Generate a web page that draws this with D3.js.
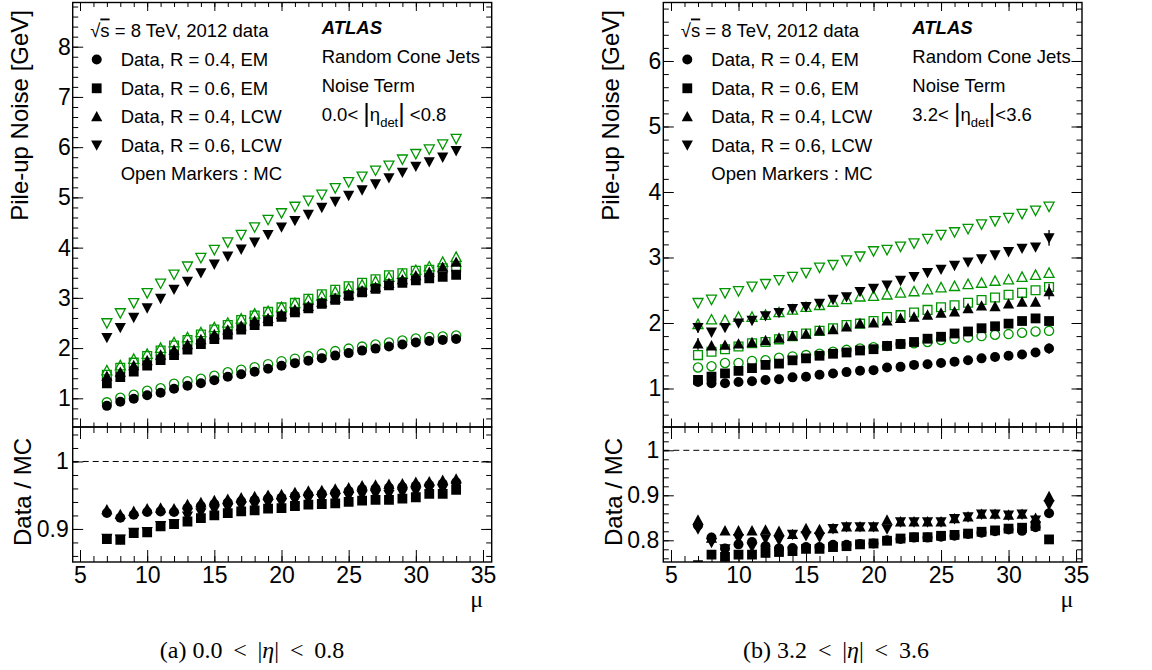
<!DOCTYPE html>
<html><head><meta charset="utf-8">
<script src="https://cdn.jsdelivr.net/npm/d3@7"></script>
<style>
body{margin:0;background:#fff}
svg{display:block}
text{font-family:"Liberation Sans",Arial,Helvetica,sans-serif;fill:#000}
.cap{font-family:"Liberation Serif","Times New Roman",serif}
</style>
</head><body>
<svg id="c" width="1152" height="670"></svg>
<script>
// ---------------- DATA ----------------
const mu = [7,8,9,10,11,12,13,14,15,16,17,18,19,20,21,22,23,24,25,26,27,28,29,30,31,32,33];

// Panel (a) 0.0 < |eta| < 0.8
const aDataR04EM  = [0.85,0.93,0.99,1.06,1.11,1.19,1.25,1.30,1.36,1.43,1.48,1.53,1.59,1.65,1.70,1.75,1.80,1.85,1.90,1.95,1.99,2.03,2.07,2.11,2.14,2.16,2.18];
const aMcR04EM    = [0.92,1.01,1.07,1.15,1.20,1.29,1.34,1.39,1.45,1.52,1.57,1.62,1.68,1.74,1.79,1.84,1.89,1.94,1.99,2.03,2.07,2.11,2.15,2.19,2.22,2.23,2.25];
const aDataR06EM  = [1.30,1.42,1.53,1.65,1.76,1.86,1.97,2.08,2.18,2.27,2.37,2.46,2.53,2.62,2.71,2.79,2.88,2.96,3.04,3.11,3.18,3.25,3.30,3.35,3.39,3.42,3.46];
const aMcR06EM    = [1.47,1.61,1.71,1.84,1.95,2.05,2.16,2.27,2.37,2.46,2.56,2.65,2.72,2.81,2.90,2.98,3.07,3.16,3.23,3.30,3.37,3.45,3.49,3.54,3.56,3.59,3.61];
const aDataR04LCW = [1.44,1.52,1.65,1.75,1.86,1.96,2.07,2.17,2.27,2.36,2.44,2.54,2.59,2.67,2.76,2.83,2.91,2.99,3.07,3.14,3.21,3.29,3.36,3.44,3.51,3.61,3.71];
const aMcR04LCW   = [1.55,1.65,1.78,1.88,2.00,2.11,2.21,2.31,2.41,2.50,2.58,2.68,2.73,2.81,2.89,2.96,3.04,3.12,3.19,3.26,3.33,3.41,3.47,3.55,3.62,3.71,3.81];
const aDataR06LCW = [2.21,2.41,2.61,2.80,2.99,3.17,3.33,3.50,3.67,3.83,3.97,4.11,4.26,4.41,4.54,4.66,4.80,4.92,5.04,5.15,5.27,5.39,5.50,5.62,5.71,5.80,5.93];
const aMcR06LCW   = [2.50,2.70,2.90,3.10,3.29,3.47,3.63,3.80,3.96,4.11,4.26,4.41,4.56,4.69,4.82,4.94,5.06,5.19,5.31,5.42,5.54,5.64,5.76,5.87,5.96,6.06,6.17];
const aRatioR04EM  = [0.9235,0.9165,0.921,0.925,0.926,0.925,0.931,0.934,0.937,0.939,0.941,0.943,0.945,0.946,0.949,0.951,0.952,0.954,0.956,0.959,0.960,0.961,0.962,0.964,0.965,0.967,0.969];
const aRatioR06EM  = [0.885,0.884,0.894,0.895,0.904,0.907,0.911,0.916,0.920,0.9235,0.926,0.9275,0.930,0.931,0.934,0.936,0.937,0.938,0.940,0.942,0.943,0.943,0.945,0.947,0.952,0.952,0.958];
const aRatioR04LCW = [0.9285,0.9215,0.926,0.930,0.931,0.930,0.936,0.939,0.942,0.944,0.946,0.948,0.950,0.951,0.954,0.956,0.957,0.959,0.961,0.964,0.965,0.966,0.967,0.969,0.970,0.972,0.974];
const aRatioR06LCW = [0.886,0.885,0.895,0.896,0.905,0.908,0.919,0.924,0.928,0.931,0.934,0.935,0.938,0.939,0.942,0.944,0.945,0.946,0.948,0.950,0.951,0.951,0.953,0.955,0.959,0.959,0.963];

// Panel (b) 3.2 < |eta| < 3.6
const bDataR04EM  = [1.10,1.08,1.08,1.10,1.11,1.13,1.14,1.17,1.18,1.21,1.23,1.25,1.27,1.28,1.32,1.33,1.36,1.37,1.39,1.41,1.43,1.46,1.48,1.50,1.52,1.55,1.61];
const bMcR04EM    = [1.32,1.34,1.39,1.39,1.42,1.43,1.47,1.49,1.51,1.53,1.56,1.59,1.61,1.63,1.65,1.68,1.69,1.71,1.74,1.76,1.78,1.80,1.82,1.83,1.85,1.87,1.88];
const bDataR06EM  = [1.13,1.18,1.23,1.27,1.31,1.36,1.38,1.43,1.46,1.50,1.53,1.55,1.58,1.60,1.65,1.68,1.71,1.76,1.79,1.84,1.87,1.92,1.95,1.99,2.03,2.07,2.03];
const bMcR06EM    = [1.51,1.56,1.60,1.64,1.69,1.71,1.75,1.80,1.84,1.88,1.92,1.97,1.99,2.03,2.09,2.12,2.16,2.20,2.24,2.27,2.31,2.35,2.39,2.43,2.46,2.50,2.55];
const bDataR04LCW = [1.68,1.65,1.66,1.68,1.70,1.73,1.77,1.80,1.83,1.88,1.90,1.94,1.99,2.00,2.03,2.07,2.09,2.12,2.15,2.17,2.22,2.26,2.25,2.29,2.32,2.32,2.48];
const bMcR04LCW   = [1.98,2.05,2.04,2.09,2.09,2.12,2.16,2.20,2.24,2.27,2.32,2.36,2.40,2.41,2.43,2.46,2.48,2.51,2.54,2.56,2.59,2.61,2.64,2.66,2.70,2.73,2.76];
const bDataR06LCW = [1.93,1.86,1.93,2.00,2.04,2.11,2.16,2.22,2.25,2.30,2.36,2.40,2.48,2.53,2.58,2.65,2.71,2.77,2.82,2.88,2.93,2.98,3.04,3.09,3.14,3.16,3.30];
const bMcR06LCW   = [2.31,2.36,2.46,2.49,2.56,2.60,2.66,2.71,2.77,2.85,2.89,2.96,3.02,3.10,3.12,3.17,3.22,3.29,3.35,3.39,3.44,3.51,3.56,3.61,3.67,3.72,3.78];
const bErrR04EM   = [0.03,0.02,0.02,0.02,0.02,0.02,0.02,0.02,0.02,0.02,0.02,0.02,0.02,0.02,0.02,0.02,0.02,0.02,0.02,0.02,0.02,0.02,0.02,0.02,0.03,0.03,0.08];
const bErrR04LCW  = [0.09,0.04,0.03,0.03,0.03,0.03,0.03,0.03,0.03,0.03,0.03,0.03,0.03,0.03,0.03,0.03,0.03,0.03,0.03,0.03,0.03,0.03,0.03,0.03,0.04,0.05,0.12];
const bErrR06LCW  = [0.08,0.06,0.03,0.03,0.03,0.03,0.03,0.03,0.03,0.03,0.03,0.03,0.03,0.03,0.03,0.03,0.03,0.03,0.03,0.03,0.03,0.03,0.03,0.03,0.04,0.05,0.12];
const bRatioR04EM  = [0.833,0.806,0.782,0.791,0.796,0.787,0.782,0.783,0.785,0.785,0.790,0.790,0.792,0.793,0.800,0.803,0.806,0.806,0.808,0.810,0.814,0.817,0.820,0.824,0.821,0.829,0.860];
const bRatioR06EM  = [0.745,0.768,0.763,0.768,0.768,0.772,0.774,0.776,0.781,0.781,0.785,0.787,0.791,0.793,0.799,0.804,0.807,0.807,0.810,0.812,0.815,0.819,0.822,0.826,0.828,0.832,0.802];
const bRatioR04LCW = [0.845,0.805,0.821,0.821,0.821,0.823,0.820,0.813,0.826,0.824,0.826,0.830,0.830,0.830,0.845,0.841,0.841,0.841,0.841,0.848,0.852,0.858,0.858,0.856,0.858,0.849,0.897];
const bRatioR06LCW = [0.825,0.795,0.781,0.804,0.785,0.803,0.800,0.813,0.810,0.807,0.826,0.830,0.830,0.830,0.825,0.841,0.841,0.841,0.841,0.848,0.852,0.858,0.858,0.856,0.858,0.845,0.879];

// Tick values and labels
const xMajorTicks = [5,10,15,20,25,30,35];
const aYMajorTicks = [1,2,3,4,5,6,7,8];
const bYMajorTicks = [1,2,3,4,5,6];
const aRatioMajorTicks = [0.9,1.0];
const bRatioMajorTicks = [0.8,0.9,1.0];

const legendLabels = ["Data, R = 0.4, EM","Data, R = 0.6, EM","Data, R = 0.4, LCW","Data, R = 0.6, LCW"];
const legendKinds = ["circle","square","triUp","triDown"];

// ---------------- DRAWING ----------------
const svg = d3.select("#c");
const GREEN = "rgb(0,150,0)";
const FONT = '"Liberation Sans",Arial,Helvetica,sans-serif';

function markerPath(kind, open){
  const r = open ? 4.6 : 5.0;
  if(kind==="circle") return d3.symbol(d3.symbolCircle, Math.PI*r*r)();
  if(kind==="square"){ const s = open?8.8:9.8; return d3.symbol(d3.symbolSquare, s*s)(); }
  const w = open?5.0:5.6, hu = open?4.2:4.6, hd = open?5.2:5.8;
  if(kind==="triUp") return `M${-w},${hu}L${w},${hu}L0,${-hd}Z`;
  return `M${-w},${-hu}L${w},${-hu}L0,${hd}Z`;
}

function drawPanel(p){
  const g = svg.append("g");
  const x = d3.scaleLinear().domain(p.xDomain).range([p.x0, p.x1]);
  const y = d3.scaleLinear().domain(p.yDomain).range([p.yB, p.yT]);
  const r = d3.scaleLinear().domain(p.rDomain).range([p.rB, p.rT]);
  const id = p.id;

  const defs = svg.append("defs");
  defs.append("clipPath").attr("id","clipT"+id).append("rect")
    .attr("x",p.x0).attr("y",p.yT).attr("width",p.x1-p.x0).attr("height",p.yB-p.yT);
  defs.append("clipPath").attr("id","clipR"+id).append("rect")
    .attr("x",p.x0).attr("y",p.rT).attr("width",p.x1-p.x0).attr("height",p.rB-p.rT);

  const xMinor = d3.range(5,36,1);
  const yMinor = d3.range(0.6,p.yDomain[1],0.2).map(v=>+v.toFixed(2)).filter(v=>v>p.yDomain[0] && v<p.yDomain[1]);
  const rMinor = d3.range(0.76,1.05,0.02).map(v=>+v.toFixed(2)).filter(v=>v>p.rDomain[0] && v<p.rDomain[1]);

  function axis(gen, tr, vals, size, labels, pad){
    const a = gen.tickValues(vals).tickSize(size).tickPadding(pad||3);
    a.tickFormat(labels ? labels : "");
    const ag = g.append("g").attr("transform",tr).call(a);
    ag.select(".domain").remove();
    ag.attr("font-size",23).attr("font-family",FONT);
    ag.selectAll("line").attr("stroke","#000").attr("stroke-width",1);
    return ag;
  }
  const fmtR = d=> d===1?"1":d3.format(".1f")(d);
  // ---- top panel ticks ----
  axis(d3.axisLeft(y), `translate(${p.x0},0)`, p.yMajor, -10.5, d3.format("d"), 2);
  axis(d3.axisLeft(y), `translate(${p.x0},0)`, yMinor, -5.5, null);
  axis(d3.axisRight(y), `translate(${p.x1},0)`, p.yMajor, -10.5, null);
  axis(d3.axisRight(y), `translate(${p.x1},0)`, yMinor, -5.5, null);
  axis(d3.axisBottom(x), `translate(0,${p.yB})`, xMajorTicks, -8.5, null);
  axis(d3.axisBottom(x), `translate(0,${p.yB})`, xMinor, -4.5, null);
  axis(d3.axisTop(x), `translate(0,${p.yT})`, xMajorTicks, -8.5, null);
  axis(d3.axisTop(x), `translate(0,${p.yT})`, xMinor, -4.5, null);
  // ---- ratio panel ticks ----
  axis(d3.axisLeft(r), `translate(${p.x0},0)`, p.rMajor, -10.5, fmtR, 4);
  axis(d3.axisLeft(r), `translate(${p.x0},0)`, rMinor, -5.5, null);
  axis(d3.axisRight(r), `translate(${p.x1},0)`, p.rMajor, -10.5, null);
  axis(d3.axisRight(r), `translate(${p.x1},0)`, rMinor, -5.5, null);
  axis(d3.axisBottom(x), `translate(0,${p.rB})`, xMajorTicks, -12, d3.format("d"), 4.5);
  axis(d3.axisBottom(x), `translate(0,${p.rB})`, xMinor, -6, null);
  axis(d3.axisTop(x), `translate(0,${p.rT})`, xMajorTicks, -12, null);
  axis(d3.axisTop(x), `translate(0,${p.rT})`, xMinor, -6, null);

  // dashed line at 1
  g.append("line").attr("x1",p.x0).attr("x2",p.x1).attr("y1",r(1)).attr("y2",r(1))
    .attr("stroke","#000").attr("stroke-width",1).attr("stroke-dasharray","6,4");

  // ---- markers ----
  const top = g.append("g").attr("clip-path",`url(#clipT${id})`);
  p.mc.forEach((vals,i)=>{
    top.append("g").selectAll("path").data(vals).join("path")
      .attr("d", markerPath(legendKinds[i], true))
      .attr("transform",(v,j)=>`translate(${x(mu[j])},${y(v)})`)
      .attr("fill","none").attr("stroke",GREEN).attr("stroke-width",1.3);
  });
  p.data.forEach((vals,i)=>{
    const err = p.err ? p.err[i] : null;
    if(err){
      top.append("g").selectAll("line").data(vals).join("line")
        .attr("x1",(v,j)=>x(mu[j])).attr("x2",(v,j)=>x(mu[j]))
        .attr("y1",(v,j)=>y(v-err[j])).attr("y2",(v,j)=>y(v+err[j]))
        .attr("stroke","#000").attr("stroke-width",1.3);
    }
    top.append("g").selectAll("path").data(vals).join("path")
      .attr("d", markerPath(legendKinds[i], false))
      .attr("transform",(v,j)=>`translate(${x(mu[j])},${y(v)})`)
      .attr("fill","#000");
  });
  const rat = g.append("g").attr("clip-path",`url(#clipR${id})`);
  p.ratio.forEach((vals,i)=>{
    rat.append("g").selectAll("path").data(vals).join("path")
      .attr("d", markerPath(legendKinds[i], false))
      .attr("transform",(v,j)=>`translate(${x(mu[j])},${r(v)})`)
      .attr("fill","#000");
  });

  // frames
  g.append("rect").attr("x",p.x0).attr("y",p.yT).attr("width",p.x1-p.x0).attr("height",p.yB-p.yT)
    .attr("fill","none").attr("stroke","#000").attr("stroke-width",1.4);
  g.append("rect").attr("x",p.x0).attr("y",p.rT).attr("width",p.x1-p.x0).attr("height",p.rB-p.rT)
    .attr("fill","none").attr("stroke","#000").attr("stroke-width",1.4);

  // axis titles
  g.append("text").attr("transform",`translate(${p.x0-44.5},10) rotate(-90)`)
    .attr("text-anchor","end").attr("font-size",24).text("Pile-up Noise [GeV]");
  g.append("text").attr("transform",`translate(${p.x0-41.5},438) rotate(-90)`)
    .attr("text-anchor","end").attr("font-size",24).text("Data / MC");
  g.append("text").attr("class","cap").attr("x",p.x1-15).attr("y",607).attr("text-anchor","middle")
    .attr("font-size",24).text("μ");

  // legend
  const lx = p.x0;
  const t0 = g.append("text").attr("x",lx+17.5).attr("y",36.5).attr("font-size",18.5);
  t0.append("tspan").text("√");
  t0.append("tspan").attr("text-decoration","overline").text("s");
  t0.append("tspan").text(" = 8 TeV, 2012 data");
  const rows = [59.5,88.3,116.7,145];
  legendLabels.forEach((lab,i)=>{
    g.append("path").attr("d",markerPath(legendKinds[i],false))
      .attr("transform",`translate(${lx+24},${rows[i]})`).attr("fill","#000");
    g.append("text").attr("x",lx+48).attr("y",rows[i]+6.7).attr("font-size",18.5).text(lab);
  });
  g.append("text").attr("x",lx+48).attr("y",180).attr("font-size",18.5).text("Open Markers : MC");

  const rx = p.x0+249;
  g.append("text").attr("x",rx).attr("y",33.5).attr("font-size",18.5)
    .attr("font-weight","bold").attr("font-style","italic").text("ATLAS");
  g.append("text").attr("x",rx).attr("y",62.5).attr("font-size",18.5).text("Random Cone Jets");
  g.append("text").attr("x",rx).attr("y",91.5).attr("font-size",18.5).text("Noise Term");
  const et = g.append("text").attr("x",rx).attr("y",120.5).attr("font-size",18.5).style("white-space","pre");
  et.append("tspan").text(p.etaLo+"< ");
  et.append("tspan").attr("font-size",25).attr("dy",1).text("|");
  et.append("tspan").attr("dy",-1).text("η");
  et.append("tspan").attr("font-size",13).attr("dy",6).text("det");
  et.append("tspan").attr("font-size",25).attr("dy",-5).text("|");
  et.append("tspan").attr("font-size",18.5).attr("dy",-1).text(p.etaSep+"<"+p.etaHi);

  // caption
  const cap = g.append("text").attr("class","cap").attr("x",p.capX).attr("y",658)
    .attr("text-anchor","middle").attr("font-size",24).style("white-space","pre");
  cap.append("tspan").text(p.capLabel+" "+p.etaLo+" \u2009<\u2009 |");
  cap.append("tspan").attr("font-style","italic").text("η");
  cap.append("tspan").text("| \u2009<\u2009 "+p.etaHi);
}

drawPanel({
  id:"a", x0:72.7, x1:491.7, yT:2.5, yB:427, rT:427, rB:562,
  xDomain:[4.456,35.648], yDomain:[0.429,8.88], rDomain:[0.851,1.0511],
  yMajor:aYMajorTicks, rMajor:aRatioMajorTicks,
  data:[aDataR04EM,aDataR06EM,aDataR04LCW,aDataR06LCW],
  mc:[aMcR04EM,aMcR06EM,aMcR04LCW,aMcR06LCW],
  ratio:[aRatioR04EM,aRatioR06EM,aRatioR04LCW,aRatioR06LCW],
  etaLo:"0.0", etaHi:"0.8", etaSep:" ", capLabel:"(a)", capX:252
});
drawPanel({
  id:"b", x0:663.3, x1:1082, yT:2.5, yB:427, rT:427, rB:562,
  xDomain:[4.43,35.44], yDomain:[0.412,6.893], rDomain:[0.7518,1.0518],
  yMajor:bYMajorTicks, rMajor:bRatioMajorTicks,
  data:[bDataR04EM,bDataR06EM,bDataR04LCW,bDataR06LCW],
  mc:[bMcR04EM,bMcR06EM,bMcR04LCW,bMcR06LCW],
  err:[bErrR04EM,null,bErrR04LCW,bErrR06LCW],
  ratio:[bRatioR04EM,bRatioR06EM,bRatioR04LCW,bRatioR06LCW],
  etaLo:"3.2", etaHi:"3.6", etaSep:"", capLabel:"(b)", capX:836
});
</script>
</body></html>
